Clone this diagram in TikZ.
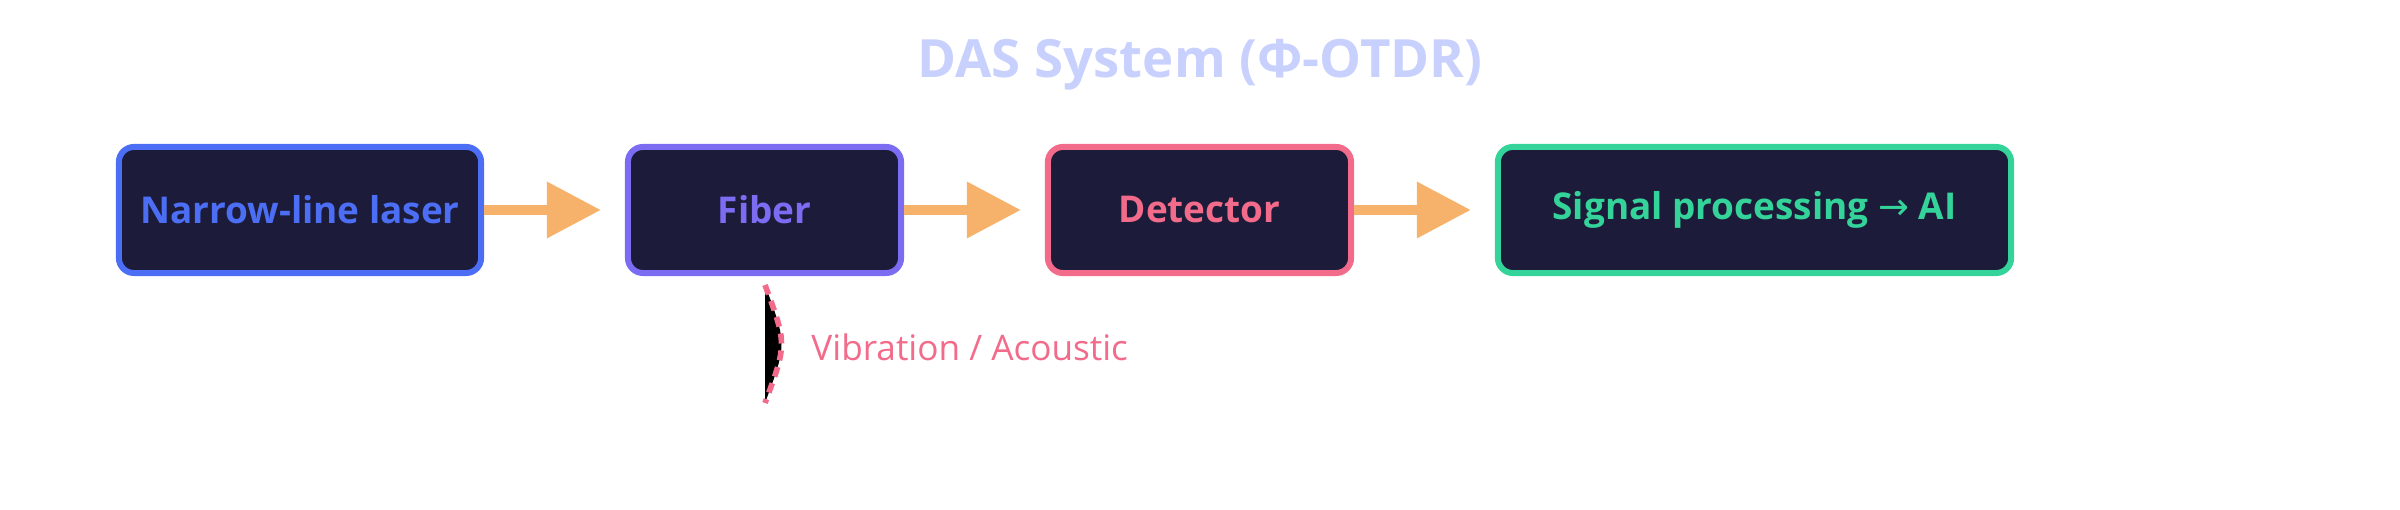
\documentclass[tikz,border=0pt]{standalone}
\usepackage{fontspec}
\setmainfont{Open Sans}
\newfontfamily\symfont{DejaVu Sans}
\usetikzlibrary{arrows.meta}
\definecolor{laserblue}{HTML}{4C6EF5}
\definecolor{fiberviolet}{HTML}{7B6CF2}
\definecolor{detpink}{HTML}{F26B8A}
\definecolor{procgreen}{HTML}{34D399}
\definecolor{boxfill}{HTML}{1C1C3A}
\definecolor{flow}{HTML}{F6B26B}
\definecolor{titlecol}{HTML}{C8D0FE}
\tikzset{
  stage/.style={draw=#1, text=#1, fill=boxfill, line width=1.7pt, rounded corners=0.15cm,
    minimum height=1.26cm, font=\fontsize{10.5}{12}\selectfont\bfseries},
  flowarrow/.style={flow, line width=2.85pt, -{Triangle[length=0.54cm,width=0.54cm]}, shorten >=0.24cm}
}
\begin{document}
\begin{tikzpicture}[x=0.01cm,y=0.01cm]
\useasboundingbox (0,0) rectangle (2400,510);
\node[text=titlecol, font=\fontsize{15}{18}\selectfont\bfseries] (title) at (1200,445) {DAS System (Φ-OTDR)};
\node[stage=laserblue, minimum width=3.62cm] (laser) at (300,300) {Narrow-line laser};
\node[stage=fiberviolet, minimum width=2.73cm] (fiber) at (764.5,300) {Fiber};
\node[stage=detpink, minimum width=3.03cm] (detector) at (1199.5,300) {Detector};
\node[stage=procgreen, minimum width=5.13cm] (proc) at (1754.5,300) {Signal processing {\symfont\mdseries →} AI};
\draw[flowarrow] (laser.east) -- (fiber.west);
\draw[flowarrow] (fiber.east) -- (detector.west);
\draw[flowarrow] (detector.east) -- (proc.west);
% vibration on the fibre
\coordinate (vtop) at (765,225);
\coordinate (vbot) at (765,107);
\draw[detpink, fill=black, line width=1.6pt, dash pattern=on 0.1cm off 0.07cm] (vtop) .. controls (787,166) .. (vbot);
\node[text=detpink, anchor=west, font=\fontsize{10}{12}\selectfont] (vib) at (799,163) {Vibration / Acoustic};
\end{tikzpicture}
\end{document}
